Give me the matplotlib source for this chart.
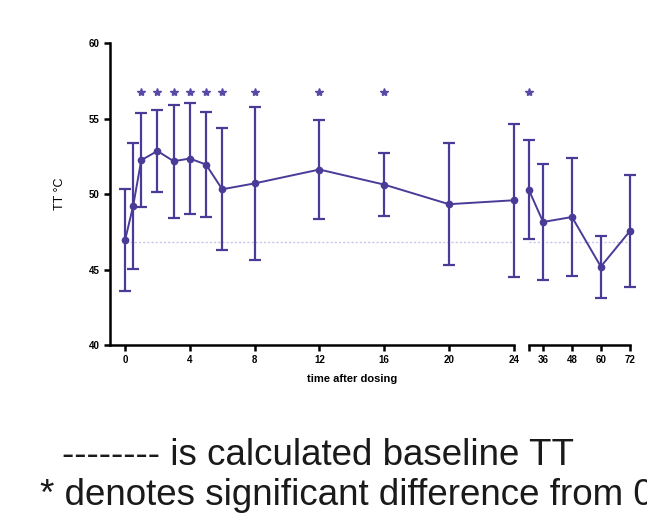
import matplotlib
matplotlib.use('Agg')
import matplotlib.pyplot as plt

plt.rcParams['font.family'] = ['Liberation Sans', 'DejaVu Sans']

# early phase (0-24 h)
t_early = [0, 0.5, 1, 2, 3, 4, 5, 6, 8, 12, 16, 20, 24]
tt_early = [46.95, 49.23, 52.26, 52.87, 52.19, 52.37, 51.97, 50.33, 50.72, 51.64, 50.64, 49.34, 49.6]
sd_early = [3.4, 4.2, 3.1, 2.7, 3.75, 3.65, 3.5, 4.05, 5.05, 3.3, 2.1, 4.05, 5.07]

# late phase (30-72 h)
t_late = [30, 36, 48, 60, 72]
tt_late = [50.31, 48.16, 48.49, 45.2, 47.54]
sd_late = [3.3, 3.83, 3.9, 2.05, 3.72]

# time points significantly different from 0 h
sig_times = [1, 2, 3, 4, 5, 6, 8, 12, 16, 30]
baseline = 46.86

purple = '#4a3b98'
W, H = 647, 516
fig = plt.figure(figsize=(W / 100, H / 100), dpi=100)

y0, y1 = 345, 43.5
ax1 = fig.add_axes([110 / W, 1 - y0 / H, (513.7 - 110) / W, (y0 - y1) / H])
ax2 = fig.add_axes([528.7 / W, 1 - y0 / H, (629.7 - 528.7) / W, (y0 - y1) / H])

ax1.set_xlim(-0.93, 24)
ax2.set_xlim(30, 72)

for ax, t, m, s in [(ax1, t_early, tt_early, sd_early), (ax2, t_late, tt_late, sd_late)]:
    ax.set_ylim(40, 60)
    ax.patch.set_alpha(0)
    ax.axhline(baseline, color='#cbc3ea', lw=1, ls=(0, (1.5, 1.5)), zorder=1,
               xmin=0.04 if ax is ax1 else 0, clip_on=False)
    ax.errorbar(t, m, yerr=s, color=purple, lw=1.4, marker='o', ms=4.5,
                capsize=4, capthick=1.6, elinewidth=1.6, clip_on=False, zorder=3)
    st = [x for x in sig_times if ax.get_xlim()[0] <= x <= ax.get_xlim()[1]]
    ax.plot(st, [56.75] * len(st), ls='none', marker='*', ms=6, color='#5a4aa6',
            clip_on=False)
    for side in ['top', 'right']:
        ax.spines[side].set_visible(False)
    ax.spines['bottom'].set_linewidth(1.8)
    ax.spines['left'].set_linewidth(1.8)
    ax.tick_params(width=1.8, length=4, labelsize=7)

ax1.set_xticks([0, 4, 8, 12, 16, 20, 24])
ax1.set_yticks([40, 45, 50, 55, 60])
ax1.set_ylabel('TT °C', fontsize=9, labelpad=16)
ax2.spines['left'].set_visible(False)
ax2.set_yticks([])
ax2.set_xticks([30, 36, 48, 60, 72])
ax2.set_xticklabels(['', '36', '48', '60', '72'])
for ax in (ax1, ax2):
    for lab in ax.get_xticklabels() + ax.get_yticklabels():
        lab.set_fontweight('bold')

fig.text(352 / W, 1 - 379 / H, 'time after dosing', ha='center', va='center',
         fontsize=8, fontweight='bold')

fig.text(62 / W, 1 - 465 / H, '-------- is calculated baseline TT', ha='left',
         va='baseline', fontsize=26.5, color='#1a1a1a')
fig.text(40 / W, 1 - 505 / H, '* denotes significant difference from 0', ha='left',
         va='baseline', fontsize=26.5, color='#1a1a1a')

fig.savefig('out.png', dpi=100)
